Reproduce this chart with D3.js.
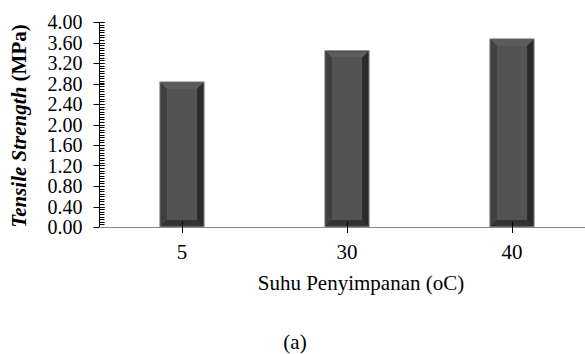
<!DOCTYPE html>
<html><head><meta charset="utf-8">
<script src="https://cdn.jsdelivr.net/npm/d3@7"></script>
</head><body style="margin:0"><svg id="c" width="585" height="354"></svg>
<script>
const categories = ["5", "30", "40"];
const values = [2.83, 3.44, 3.67];
const yTicks = [0, 0.4, 0.8, 1.2, 1.6, 2.0, 2.4, 2.8, 3.2, 3.6, 4.0];

const FONT = "'Liberation Serif'";
const svg = d3.select("#c");
const x = d3.scaleBand().domain(categories).range([99.5, 594.5]).paddingInner(0).paddingOuter(0);
const y = d3.scaleLinear().domain([0, 4]).range([227, 22]);
const barW = x.bandwidth() * 0.268;

// y axis
const yAx = svg.append("g").attr("transform", "translate(99.5,0)");
yAx.append("line").attr("y1", y(4)).attr("y2", y(0)).attr("stroke", "#000");
const minor = d3.range(0, 81).map(i => i * 0.05);
yAx.selectAll(".mn").data(minor).join("line")
  .attr("x1", 0).attr("x2", 5).attr("y1", d => Math.round(y(d)) + 0.5).attr("y2", d => Math.round(y(d)) + 0.5)
  .attr("stroke", "#000").attr("stroke-width", 1);
yAx.selectAll(".mj").data(yTicks).join("line")
  .attr("x1", -6).attr("x2", 5).attr("y1", d => Math.round(y(d)) + 0.5).attr("y2", d => Math.round(y(d)) + 0.5)
  .attr("stroke", "#000");
yAx.selectAll(".tl").data(yTicks).join("text")
  .attr("x", -17).attr("y", d => y(d) + 7)
  .attr("font-family", FONT).attr("font-size", 20).attr("text-anchor", "end")
  .text(d => d3.format(".2f")(d));

// bars
const g = svg.append("g");
categories.forEach((c, i) => {
  const x0 = x(c) + (x.bandwidth() - barW) / 2, x1 = x0 + barW;
  const y0 = y(values[i]), y1 = y(0);
  const b = 6;
  g.append("rect").attr("x", x0).attr("y", y0).attr("width", barW).attr("height", y1 - y0)
    .attr("fill", "#3a3a3a").attr("stroke", "#8c8c8c").attr("stroke-width", 1);
  const p = (pts, col) => g.append("polygon").attr("points", pts.map(q => q.join(",")).join(" ")).attr("fill", col);
  const ix0 = x0 + 1, ix1 = x1 - 1, iy0 = y0 + 1, iy1 = y1 - 1;
  p([[ix0, iy0], [ix1, iy0], [ix1 - b, iy0 + b], [ix0 + b, iy0 + b]], "#5c5c5c");
  p([[ix0, iy0], [ix0 + b, iy0 + b], [ix0 + b, iy1 - b], [ix0, iy1]], "#404040");
  p([[ix1, iy0], [ix1, iy1], [ix1 - b, iy1 - b], [ix1 - b, iy0 + b]], "#2a2a2a");
  p([[ix0, iy1], [ix0 + b, iy1 - b], [ix1 - b, iy1 - b], [ix1, iy1]], "#333333");
  g.append("rect").attr("x", ix0 + b).attr("y", iy0 + b).attr("width", ix1 - ix0 - 2 * b).attr("height", iy1 - iy0 - 2 * b)
    .attr("fill", "#535353");
});

// x axis
const xAx = svg.append("g");
xAx.append("line").attr("x1", 99).attr("x2", 585).attr("y1", 227.5).attr("y2", 227.5).attr("stroke", "#888");
xAx.selectAll(".xt").data(categories).join("line")
  .attr("x1", d => Math.round(x(d) + x.bandwidth() / 2) + 0.5).attr("x2", d => Math.round(x(d) + x.bandwidth() / 2) + 0.5)
  .attr("y1", 222).attr("y2", 233).attr("stroke", "#000");
xAx.selectAll(".xl").data(categories).join("text")
  .attr("x", d => x(d) + x.bandwidth() / 2).attr("y", 259).attr("text-anchor", "middle")
  .attr("font-family", FONT).attr("font-size", 21).text(d => d);

svg.append("text").attr("x", 361).attr("y", 290).attr("text-anchor", "middle")
  .attr("font-family", FONT).attr("font-size", 21).text("Suhu Penyimpanan (oC)");

const yl = svg.append("text").attr("transform", "translate(26,126) rotate(-90)").attr("text-anchor", "middle")
  .attr("font-family", FONT).attr("font-size", 21).attr("font-weight", "bold");
yl.append("tspan").attr("font-style", "italic").text("Tensile Strength");
yl.append("tspan").text(" (MPa)");

svg.append("text").attr("x", 295).attr("y", 349).attr("text-anchor", "middle")
  .attr("font-family", FONT).attr("font-size", 21).text("(a)");
</script></body></html>
